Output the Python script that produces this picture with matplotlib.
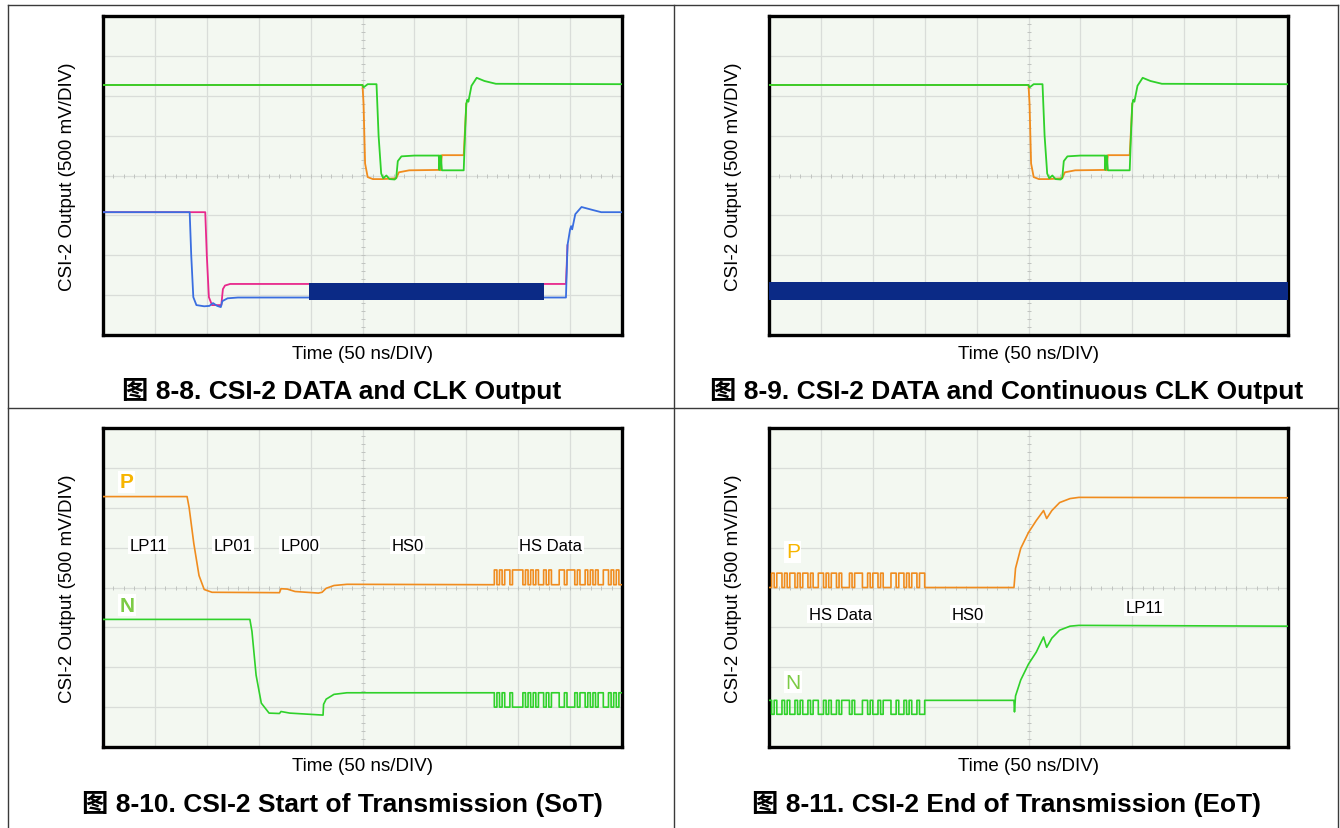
import numpy as np
import matplotlib.pyplot as plt
from matplotlib.lines import Line2D

plt.rcParams['font.family'] = ['Liberation Sans', 'Noto Sans CJK SC']

W, H = 1340, 829

# time axis in divisions (50 ns/div), voltage in divisions (500 mV/div) from screen centre
# ---- 8-8 / 8-9 : data lane (P orange, N green) ----
dat_n_t = [0, 5.0, 5.02, 5.1, 5.27, 5.31, 5.36, 5.40, 5.46, 5.52, 5.62, 5.65, 5.68, 5.75, 6.0, 6.47,
           6.48, 6.50, 6.51, 6.53, 6.95, 6.98, 7.0, 7.02, 7.04, 7.1, 7.2, 7.35, 7.57, 10]
dat_n_v = [2.27, 2.27, 2.21, 2.29, 2.29, 1.0, 0.05, -0.07, 0.0, -0.09, -0.1, -0.06, 0.36, 0.48, 0.5, 0.5,
           0.14, 0.5, 0.5, 0.13, 0.13, 1.2, 1.8, 1.9, 1.85, 2.25, 2.45, 2.37, 2.3, 2.29]
dat_p_t = [0, 5.0, 5.02, 5.05, 5.1, 5.2, 5.38, 5.65, 5.7, 5.9, 6.47, 6.48, 6.50, 6.53, 6.95, 7.0]
dat_p_v = [2.27, 2.27, 1.8, 0.3, -0.04, -0.09, -0.09, -0.07, 0.08, 0.13, 0.14, 0.5, 0.13, 0.51, 0.51, 1.8]

# ---- 8-8 : gated clock lane (P magenta, N blue) ----
clk_n_t = [0, 1.67, 1.70, 1.74, 1.8, 1.95, 2.05, 2.12, 2.2, 2.27, 2.3, 2.4, 2.6, 8.92, 8.95, 9.0, 9.02,
           9.04, 9.1, 9.22, 9.45, 9.6, 10]
clk_n_v = [-0.92, -0.92, -2.0, -3.05, -3.25, -3.28, -3.27, -3.2, -3.27, -3.3, -3.15, -3.08, -3.06, -3.06,
           -1.75, -1.35, -1.27, -1.35, -0.97, -0.79, -0.87, -0.92, -0.92]
clk_p_t = [0, 1.97, 2.0, 2.04, 2.1, 2.28, 2.31, 2.35, 2.45, 8.92, 8.95]
clk_p_v = [-0.92, -0.92, -2.0, -3.05, -3.25, -3.25, -2.85, -2.76, -2.72, -2.72, -1.75]
burst_start, burst_end = 3.97, 8.50
burst_lo, burst_hi = -3.11, -2.7
# ---- 8-9 : continuous clock ----
cont_lo, cont_hi = -3.12, -2.66

# ---- 8-10 : start of transmission ----
sot_p_t = [0, 1.62, 1.66, 1.75, 1.85, 1.95, 2.1, 3.4, 3.43, 3.55, 3.7, 4.15, 4.22, 4.3, 4.45, 4.7, 7.54]
sot_p_v = [2.28, 2.28, 2.0, 1.1, 0.3, -0.05, -0.12, -0.13, -0.03, -0.04, -0.1, -0.14, -0.12, -0.02, 0.05,
           0.08, 0.07]
sot_n_t = [0, 2.83, 2.87, 2.95, 3.05, 3.2, 3.4, 3.43, 3.6, 4.24, 4.25, 4.3, 4.45, 4.7, 7.54]
sot_n_v = [-0.8, -0.8, -1.1, -2.2, -2.9, -3.15, -3.16, -3.11, -3.15, -3.2, -2.93, -2.8, -2.68, -2.64, -2.64]
sot_hs_start = 7.54
sot_bits = "1010110111101010100101000110111010010101001101010"
sot_p_lv = (0.07, 0.44)
sot_n_lv = (-2.64, -3.0)

# ---- 8-11 : end of transmission ----
eot_hs_end = 3.1
eot_bits = "01011010110101101001101011010001011100101101000110110101101100"
eot_p_lv = (0.0, 0.36)
eot_n_lv = (-2.83, -3.18)
eot_p_t = [3.1, 4.72, 4.75, 4.85, 5.0, 5.15, 5.29, 5.35, 5.45, 5.6, 5.8, 5.97, 10]
eot_p_v = [0.0, 0.0, 0.48, 0.98, 1.38, 1.68, 1.93, 1.73, 1.93, 2.13, 2.23, 2.26, 2.25]
eot_n_t = [3.1, 4.72, 4.73, 4.75, 4.85, 5.0, 5.15, 5.29, 5.35, 5.45, 5.6, 5.8, 5.97, 10]
eot_n_v = [-2.83, -2.83, -3.12, -2.72, -2.32, -1.92, -1.62, -1.24, -1.5, -1.27, -1.07, -0.97, -0.95, -0.97]
ui = 0.05

sot_labels = [("LP11", 0.87), ("LP01", 2.5), ("LP00", 3.79), ("HS0", 5.87), ("HS Data", 8.63)]
eot_labels = [("HS Data", 1.37, -0.67), ("HS0", 3.82, -0.67), ("LP11", 7.23, -0.5)]

captions = ["图 8-8. CSI-2 DATA and CLK Output", "图 8-9. CSI-2 DATA and Continuous CLK Output",
            "图 8-10. CSI-2 Start of Transmission (SoT)", "图 8-11. CSI-2 End of Transmission (EoT)"]

GREEN = '#2fd12a'
ORANGE = '#f08c1e'
MAGENTA = '#e8288c'
BLUE = '#3a6ee0'
NAVY = '#0b2a86'


def bits_trace(x0, bits, levels):
    edges = x0 + ui * np.arange(len(bits) + 1)
    lv = np.array([levels[int(b)] for b in bits])
    return np.repeat(edges, 2)[1:-1], np.repeat(lv, 2)


def scope_axes(fig, left, top):
    ax = fig.add_axes([left / W, 1 - (top + 319) / H, 519 / W, 319 / H])
    ax.set_facecolor('#f3f8f1')
    ax.set_xlim(0, 10)
    ax.set_ylim(-4, 4)
    ax.set_xticks(range(11))
    ax.set_yticks(range(-4, 5))
    ax.set_axisbelow(True)
    ax.tick_params(length=0, labelbottom=False, labelleft=False)
    ax.grid(True, color='#d9ddd9', lw=0.9)
    for s in ax.spines.values():
        s.set_linewidth(2.4)
        s.set_color('black')
    ax.plot(np.arange(0, 10.01, 0.2), np.zeros(51), ls='none', marker='|', ms=3, color='#c0c4c0', mew=0.7,
            zorder=1)
    ax.plot(np.full(41, 5.0), np.arange(-4, 4.01, 0.2), ls='none', marker='_', ms=3, color='#c0c4c0',
            mew=0.7, zorder=1)
    ax.text(0.5, -0.03, "Time (50 ns/DIV)", transform=ax.transAxes, ha='center', va='top', fontsize=13.5)
    ax.text(-0.068, 0.5, "CSI-2 Output (500 mV/DIV)", transform=ax.transAxes, ha='center', va='center',
            rotation=90, fontsize=13.5)
    return ax


fig = plt.figure(figsize=(W / 100, H / 100), dpi=100)

# table frame
def hline(y, x0, x1):
    fig.add_artist(Line2D([x0 / W, x1 / W], [1 - y / H, 1 - y / H], color='#3a3a3a', lw=1.0))

def vline(x, y0, y1):
    fig.add_artist(Line2D([x / W, x / W], [1 - y0 / H, 1 - y1 / H], color='#3a3a3a', lw=1.0))

hline(6, 8, 1338)
hline(409, 8, 1338)
vline(8, 6, 829)
vline(674, 6, 829)
vline(1338, 6, 829)

lefts = [103, 769, 103, 769]
tops = [17, 17, 429, 429]
axs = [scope_axes(fig, l, t) for l, t in zip(lefts, tops)]

# 8-8
ax = axs[0]
ax.plot(dat_p_t, dat_p_v, color=ORANGE, lw=1.3, zorder=4)
ax.plot(dat_n_t, dat_n_v, color=GREEN, lw=1.3, zorder=4)
ax.plot(clk_p_t, clk_p_v, color=MAGENTA, lw=1.3, zorder=4)
ax.plot(clk_n_t, clk_n_v, color=BLUE, lw=1.3, zorder=4)
ax.fill_between([burst_start, burst_end], burst_lo, burst_hi, color=NAVY, lw=0, zorder=5)

# 8-9
ax = axs[1]
ax.plot(dat_p_t, dat_p_v, color=ORANGE, lw=1.3, zorder=4)
ax.plot(dat_n_t, dat_n_v, color=GREEN, lw=1.3, zorder=4)
ax.fill_between([0, 10], cont_lo, cont_hi, color=NAVY, lw=0, zorder=5)

# 8-10
ax = axs[2]
x, y = bits_trace(sot_hs_start, sot_bits, sot_p_lv)
ax.plot(sot_p_t + list(x), sot_p_v + list(y), color=ORANGE, lw=1.2, zorder=4)
x, y = bits_trace(sot_hs_start, sot_bits, sot_n_lv)
ax.plot(sot_n_t + list(x), sot_n_v + list(y), color=GREEN, lw=1.2, zorder=4)
ax.text(0.46, 2.65, "P", color='#f7b500', fontsize=15, fontweight='bold', ha='center', va='center',
        bbox=dict(facecolor='white', edgecolor='none', pad=1))
ax.text(0.46, -0.44, "N", color='#7ccb45', fontsize=15, fontweight='bold', ha='center', va='center',
        bbox=dict(facecolor='white', edgecolor='none', pad=1))
for txt, xpos in sot_labels:
    ax.text(xpos, 1.06, txt, fontsize=12, ha='center', va='center', zorder=6,
            bbox=dict(facecolor='white', edgecolor='none', pad=1))

# 8-11
ax = axs[3]
x, y = bits_trace(0, eot_bits, eot_p_lv)
ax.plot(list(x) + eot_p_t, list(y) + eot_p_v, color=ORANGE, lw=1.2, zorder=4)
x, y = bits_trace(0, eot_bits, eot_n_lv)
ax.plot(list(x) + eot_n_t, list(y) + eot_n_v, color=GREEN, lw=1.2, zorder=4)
ax.text(0.46, 0.9, "P", color='#f7b500', fontsize=15, ha='center', va='center',
        bbox=dict(facecolor='white', edgecolor='none', pad=1))
ax.text(0.46, -2.38, "N", color='#7ccb45', fontsize=15, ha='center', va='center',
        bbox=dict(facecolor='white', edgecolor='none', pad=1))
for txt, xpos, ypos in eot_labels:
    ax.text(xpos, ypos, txt, fontsize=12, ha='center', va='center', zorder=6,
            bbox=dict(facecolor='white', edgecolor='none', pad=1))

# figure captions
cap_pos = [(342, 391), (1007, 391), (342, 804), (1007, 804)]
for txt, (cx, cy) in zip(captions, cap_pos):
    fig.text(cx / W, 1 - cy / H, txt, ha='center', va='center', fontsize=19, fontweight='bold')

fig.savefig('out.png', dpi=100)
